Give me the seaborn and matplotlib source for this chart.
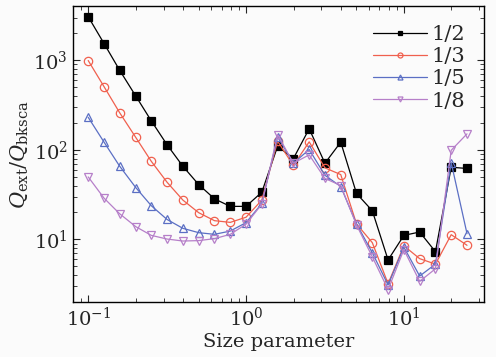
import matplotlib
matplotlib.use("Agg")
import matplotlib.pyplot as plt
import seaborn as sns
import pandas as pd

size_param = [0.1, 0.126, 0.158, 0.2, 0.251, 0.316, 0.398, 0.501, 0.631, 0.794,
              1.0, 1.259, 1.585, 1.995, 2.512, 3.162, 3.981, 5.012, 6.31, 7.943,
              10.0, 12.59, 15.85, 19.95, 25.12]
q_half = [3070, 1540, 778, 400, 211, 114, 65.6, 41, 28.4, 23.4, 23.4, 33.7, 110,
          80, 172, 71, 122, 32.6, 20.9, 5.9, 11.1, 12.1, 7.3, 64, 62]
q_third = [995, 508, 261, 138, 74.5, 43.5, 27.5, 19.9, 16.2, 15.5, 17.7, 27.5, 125,
           67, 123, 63, 53, 14.9, 9.2, 3.2, 8.5, 6.1, 5.3, 11.3, 8.6]
q_fifth = [231, 122, 66, 38, 23.8, 16.7, 13.3, 11.9, 11.4, 12.4, 15.4, 25.2, 140,
           71, 101, 52, 39, 14.9, 7.1, 3.1, 8.2, 3.9, 5.3, 72, 11.6]
q_eighth = [49.9, 28.9, 19.4, 13.9, 11.1, 10.1, 9.6, 9.7, 10.2, 11.4, 14.8, 24.8, 148,
            71, 88, 48, 40, 14.5, 6.4, 2.75, 7.7, 3.4, 4.7, 99, 151]
labels = ["1/2", "1/3", "1/5", "1/8"]

sns.set_theme(style="ticks")
plt.rcParams["font.family"] = ["DejaVu Serif"]
plt.rcParams["mathtext.fontset"] = "dejavuserif"

fig = plt.figure(figsize=(4.96, 3.57), dpi=100, facecolor="#fbfbfb")
ax = fig.add_axes([0.147, 0.154, 0.828, 0.828])
ax.set_facecolor("#fbfbfb")

styles = [
    dict(color="black", marker="s", mfc="black"),
    dict(color="#f0604e", marker="o", mfc="none"),
    dict(color="#5b6fc4", marker="^", mfc="none"),
    dict(color="#b67fc9", marker="v", mfc="none"),
]
series = [q_half, q_third, q_fifth, q_eighth]
for lab, vals, st in zip(labels, series, styles):
    df = pd.DataFrame({"x": size_param, "y": vals})
    sns.lineplot(data=df, x="x", y="y", ax=ax, label=lab, color=st["color"],
                 marker=st["marker"], markerfacecolor=st["mfc"],
                 markeredgecolor=st["color"], markersize=6, markeredgewidth=0.9,
                 linewidth=0.9)

ax.set_xscale("log")
ax.set_yscale("log")
ax.set_xlim(0.08, 32)
ax.set_ylim(2, 4000)
ax.set_xlabel("Size parameter", fontsize=14, labelpad=2)
ax.set_ylabel(r"$Q_{\rm ext}/Q_{\rm bksca}$", fontsize=15, labelpad=2)
ax.tick_params(which="both", direction="in", top=True, right=True, labelsize=14)
ax.tick_params(which="major", length=5, width=0.8)
ax.tick_params(which="minor", length=3, width=0.6)
for s in ax.spines.values():
    s.set_linewidth(1.0)
    s.set_color("black")

leg = ax.legend(loc="upper right", frameon=False, fontsize=15, handlelength=2.6,
                handletextpad=0.2, labelspacing=0.15, borderaxespad=0.5,
                markerscale=0.6)

fig.savefig("out.png", dpi=100, facecolor=fig.get_facecolor())
